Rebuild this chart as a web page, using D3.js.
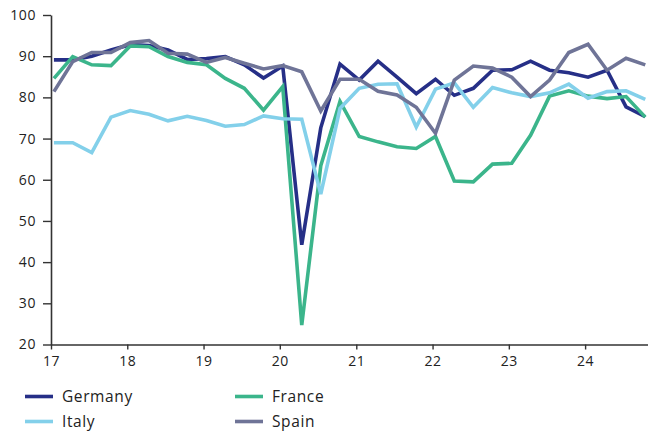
<!DOCTYPE html>
<html><head><meta charset="utf-8">
<script src="https://cdn.jsdelivr.net/npm/d3@7"></script>
<style>
html,body{margin:0;padding:0;background:#fff;}
svg{display:block;font-family:"Open Sans",sans-serif;}
</style></head>
<body><svg id="c" width="648" height="432"></svg>
<script>
const quarters = ["2017Q1","2017Q2","2017Q3","2017Q4","2018Q1","2018Q2","2018Q3","2018Q4",
"2019Q1","2019Q2","2019Q3","2019Q4","2020Q1","2020Q2","2020Q3","2020Q4",
"2021Q1","2021Q2","2021Q3","2021Q4","2022Q1","2022Q2","2022Q3","2022Q4",
"2023Q1","2023Q2","2023Q3","2023Q4","2024Q1","2024Q2","2024Q3","2024Q4"];
const germany = [89.1,89.1,90.0,91.5,92.8,92.6,91.5,89.2,89.4,89.9,87.9,84.7,87.6,44.2,72.6,88.1,
84.2,88.8,84.9,80.9,84.4,80.5,82.2,86.6,86.7,88.8,86.6,86.0,84.9,86.6,77.7,75.3];
const france = [84.6,89.9,87.9,87.7,92.5,92.3,89.9,88.5,87.9,84.6,82.2,76.9,82.6,24.7,63.4,79.0,
70.5,69.2,68.0,67.6,70.5,59.7,59.5,63.8,64.0,70.8,80.3,81.6,80.3,79.7,80.2,75.2];
const italy = [69.0,69.0,66.6,75.2,76.8,75.9,74.3,75.4,74.4,73.0,73.4,75.5,74.8,74.7,56.5,77.3,
82.2,83.2,83.3,72.8,82.0,83.5,77.6,82.4,81.1,80.2,81.1,83.2,79.8,81.4,81.6,79.5];
const spain = [81.4,88.7,90.9,90.9,93.3,93.8,90.7,90.5,88.5,89.7,88.3,86.9,87.7,86.2,76.7,84.4,
84.4,81.5,80.6,77.6,71.3,84.2,87.6,87.1,84.9,80.2,84.2,90.9,92.9,86.6,89.5,87.9];
const seriesNames = ["Germany","France","Italy","Spain"];
const seriesColors = ["#262f87","#3bb58b","#83d0ea","#6f7497"];
const yTicks = [20,30,40,50,60,70,80,90,100];
const xTickYears = [2017,2018,2019,2020,2021,2022,2023,2024];

const seriesData = [germany, france, italy, spain];
const toDate = q => new Date(+q.slice(0,4), (+q.slice(5)-1)*3, 15);

const svg = d3.select("#c");
const x = d3.scaleTime().domain([new Date(2017,0,1), new Date(2024,9,28)]).range([51, 648]);
const y = d3.scaleLinear().domain([20,100]).range([344.5, 15]);

const line = d3.line().x(d => x(d[0])).y(d => y(d[1]));
seriesData.forEach((vals, k) => {
  svg.append("path")
    .datum(quarters.map((q,i) => [toDate(q), vals[i]]))
    .attr("fill","none").attr("stroke", seriesColors[k])
    .attr("stroke-width",3.6).attr("stroke-linejoin","miter").attr("stroke-miterlimit",3)
    .attr("d", line);
});

const yAxis = svg.append("g").attr("transform","translate(51,0)")
  .call(d3.axisLeft(y).tickValues(yTicks).tickSize(8).tickPadding(7).tickSizeOuter(0));
const xAxis = svg.append("g").attr("transform","translate(0,344.5)")
  .call(d3.axisBottom(x).tickValues(xTickYears.map(yr => new Date(yr,0,1)))
    .tickFormat(d3.timeFormat("%y")).tickSize(5).tickPadding(7).tickSizeOuter(0));
[yAxis, xAxis].forEach(a => {
  a.select(".domain").attr("stroke","#333").attr("stroke-width",1.6);
  a.selectAll(".tick line").attr("stroke","#333").attr("stroke-width",1.4);
  a.selectAll("text").attr("fill","#222").style("font-size","14px")
    .style("font-family","'Open Sans',sans-serif").style("letter-spacing","0.6px");
});

const legendPos = [[25,396.5],[235,396.5],[25,421.5],[235,421.5]];
seriesNames.forEach((n,k) => {
  const [lx,ly] = legendPos[k];
  svg.append("line").attr("x1",lx).attr("x2",lx+28).attr("y1",ly).attr("y2",ly)
    .attr("stroke",seriesColors[k]).attr("stroke-width",3.6);
  svg.append("text").attr("x",lx+37).attr("y",ly).attr("dy","0.35em")
    .attr("fill","#222").style("font-size","15.5px").style("letter-spacing","0.6px").text(n);
});
</script></body></html>
